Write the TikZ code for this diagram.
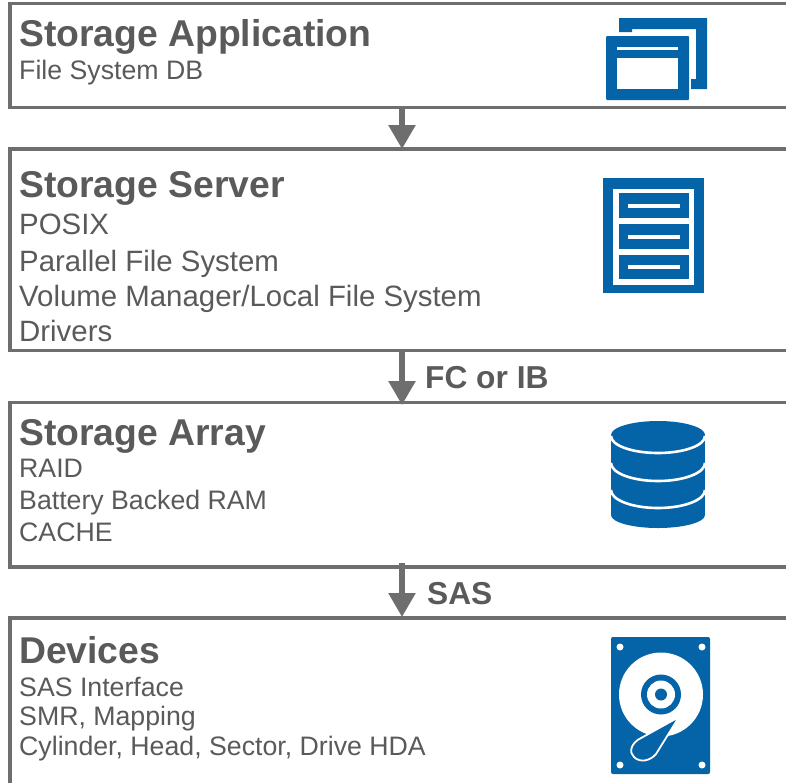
\documentclass[tikz,border=0pt]{standalone}
\usepackage{fontspec}
\setmainfont{Liberation Sans}
\usetikzlibrary{arrows.meta}
\definecolor{gline}{HTML}{6E6E6E}
\definecolor{gtext}{HTML}{5A5A5A}
\definecolor{iconblue}{HTML}{0563A8}
\tikzset{
  layerbox/.style={draw=gline,line width=3.6pt,fill=white},
  head/.style={anchor=base west,inner sep=0pt,text=gtext,font=\fontsize{37.3}{37.3}\selectfont\bfseries},
  sub/.style={anchor=base west,inner sep=0pt,text=gtext,font=\fontsize{26.7}{26.7}\selectfont},
  subbig/.style={anchor=base west,inner sep=0pt,text=gtext,font=\fontsize{29.4}{29.4}\selectfont},
  linklabel/.style={anchor=base west,inner sep=0pt,text=gtext,font=\fontsize{31.7}{31.7}\selectfont\bfseries},
  link/.style={draw=gline,line width=5.5pt,-{Triangle[length=24pt,width=26pt]}},
  ico/.style={fill=iconblue,draw=none},
  icow/.style={fill=white,draw=none},
  icoline/.style={draw=white,line width=2.6pt}
}
\begin{document}
\begin{tikzpicture}[x=1pt,y=-1pt]
\useasboundingbox (0,0) rectangle (786,782);
\fill[white] (0,0) rectangle (786,782);
% boxes
\path[layerbox] (800,3.5) -- (10,3.5) -- (10,107.5) -- (800,107.5);
\path[layerbox] (800,149) -- (10,149) -- (10,350.5) -- (800,350.5);
\path[layerbox] (800,402.5) -- (10,402.5) -- (10,567) -- (800,567);
\path[layerbox] (800,618) -- (10,618) -- (10,800);
\coordinate (a1) at (402,107);
\coordinate (b1) at (402,149);
\coordinate (a2) at (402,350);
\coordinate (b2) at (402,405);
\coordinate (a3) at (402,563);
\coordinate (b3) at (402,617);
\draw[link] (a1) -- (b1);
\draw[link] (a2) -- (b2);
\draw[link] (a3) -- (b3);
% texts
\node[head] (t1) at (19,46) {Storage Application};
\node[sub] (t1a) at (19,79) {File System DB};
\node[head] (t2) at (19,197) {Storage Server};
\node[subbig] (t2a) at (19,234) {POSIX};
\node[subbig] (t2b) at (19,271) {Parallel File System};
\node[subbig] (t2c) at (19,306) {Volume Manager/Local File System};
\node[subbig] (t2d) at (19,341) {Drivers};
\node[head] (t3) at (19,445) {Storage Array};
\node[sub] (t3a) at (19,477) {RAID};
\node[sub] (t3b) at (19,509) {Battery Backed RAM};
\node[sub] (t3c) at (19,541) {CACHE};
\node[head] (t4) at (19,663) {Devices};
\node[sub] (t4a) at (19,696) {SAS Interface};
\node[sub] (t4b) at (19,725) {SMR, Mapping};
\node[sub] (t4c) at (19,755) {Cylinder, Head, Sector, Drive HDA};
\node[linklabel] (l1) at (425,388) {FC or IB};
\node[linklabel] (l2) at (427,604) {SAS};
% icon 1: windows
\fill[ico] (619,18) -- (707,18) -- (707,89) -- (691,89) -- (691,79) -- (696,79) -- (696,29) -- (632,29) -- (632,32) -- (619,32) -- cycle;
\fill[ico,rounded corners=1pt] (606,36) rectangle (689,100);
\fill[icow] (617,47) rectangle (678,50);
\fill[icow] (617,58) rectangle (678,89);
% icon 2: server
\fill[ico] (603,178) rectangle (704,293);
\fill[icow] (613,188.5) rectangle (694,284.5);
\fill[ico] (619,193) rectangle (689,218);
\fill[ico] (619,224) rectangle (689,249);
\fill[ico] (619,255) rectangle (689,279);
\fill[icow] (628,204) rectangle (680,208);
\fill[icow] (628,235) rectangle (680,238.5);
\fill[icow] (628,265) rectangle (680,268.5);
% icon 3: database
\fill[ico] (611,435) rectangle (705,515);
\fill[ico] (658,435) ellipse[x radius=47,y radius=14];
\fill[ico] (658,515) ellipse[x radius=47,y radius=13];
\draw[icoline] (611,436) arc[x radius=47,y radius=17,start angle=180,end angle=0];
\draw[icoline] (611,463) arc[x radius=47,y radius=18,start angle=180,end angle=0];
\draw[icoline] (611,490) arc[x radius=47,y radius=18,start angle=180,end angle=0];
% icon 4: hdd
\fill[ico,rounded corners=2pt] (611,637) rectangle (710,774);
\fill[icow] (661,694.5) circle[radius=42];
\fill[icow] (620,647) circle[radius=3.5];
\fill[icow] (702,647) circle[radius=3.5];
\fill[icow] (620,765) circle[radius=3.5];
\fill[icow] (702,765) circle[radius=3.5];
\fill[ico] (661,694.5) circle[radius=20];
\fill[icow] (661,694.5) circle[radius=14];
\fill[ico] (661,694.5) circle[radius=6];
\draw[white,line width=1.8pt,fill=iconblue,line join=round] (679,717) -- (642,737.5) .. controls (630,743) and (629,753) .. (634,757) .. controls (640,763) and (650,761) .. (656,754) -- cycle;
\end{tikzpicture}
\end{document}
